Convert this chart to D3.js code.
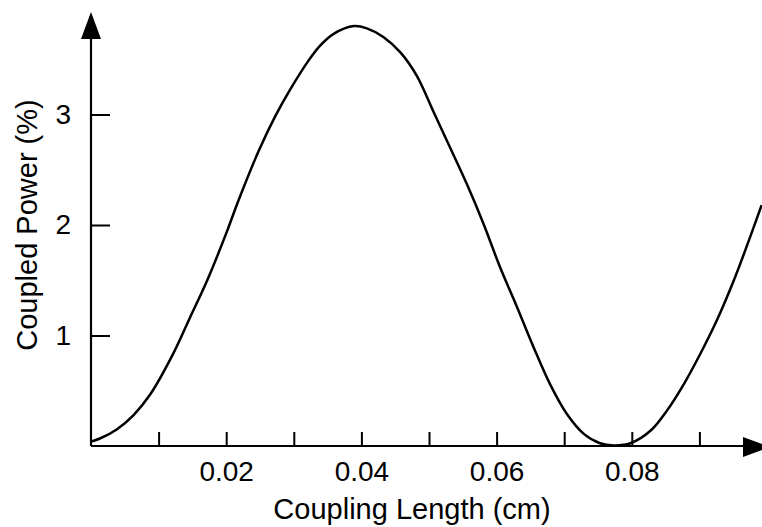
<!DOCTYPE html>
<html>
<head>
<meta charset="utf-8">
<script src="https://cdn.jsdelivr.net/npm/d3@7"></script>
<style>
  body { margin: 0; background: #fff; }
  text { font-family: "Liberation Sans", Arial, sans-serif; fill: #000; }
</style>
</head>
<body>
<script>
// values
var lengths = [0, 0.0014, 0.0038, 0.0063, 0.0088, 0.0122, 0.0147, 0.0172, 0.0201, 0.0218,
               0.0248, 0.0273, 0.0295, 0.0322, 0.0340, 0.0359, 0.0389, 0.0408, 0.0433, 0.0458,
               0.0482, 0.0507, 0.0532, 0.0556, 0.0580, 0.0605, 0.0630, 0.0655, 0.0679, 0.0704,
               0.0729, 0.0753, 0.0773, 0.0798, 0.0828, 0.0852, 0.0877, 0.0901, 0.0926, 0.0951,
               0.0975, 0.0992];
var power = [0.04, 0.07, 0.15, 0.28, 0.47, 0.84, 1.17, 1.50, 1.94, 2.22,
             2.67, 2.99, 3.23, 3.49, 3.63, 3.73, 3.80, 3.78, 3.70, 3.56,
             3.35, 3.02, 2.69, 2.37, 2.02, 1.62, 1.26, 0.89, 0.56, 0.29,
             0.11, 0.025, 0.005, 0.025, 0.14, 0.32, 0.56, 0.83, 1.14, 1.50,
             1.89, 2.18];
var xTicks = [0.01, 0.02, 0.03, 0.04, 0.05, 0.06, 0.07, 0.08, 0.09];
var xLabelled = [0.02, 0.04, 0.06, 0.08];
var yTicks = [1, 2, 3];

var width = 762, height = 527;
var x0 = 91, y0 = 446;

var svg = d3.select('body').append('svg').attr('width', width).attr('height', height);

var x = d3.scaleLinear().domain([0, 0.1]).range([x0, x0 + 676]);
var y = d3.scaleLinear().domain([0, 4]).range([y0, y0 - 442]);

// x axis, ticks pointing up, labels only on even ticks
var xAxis = svg.append('g')
    .attr('transform', 'translate(0,' + y0 + ')')
    .call(d3.axisBottom(x).tickValues(xTicks).tickSize(-14).tickPadding(15)
        .tickFormat(function (d) {
            return xLabelled.some(function (v) { return Math.abs(v - d) < 1e-9; }) ? d3.format('.2f')(d) : '';
        }));
xAxis.select('.domain').remove();
xAxis.selectAll('line').attr('stroke', '#000').attr('stroke-width', 2);
xAxis.selectAll('text').style('font-size', '28px').attr('dy', '0.71em');

// y axis, ticks pointing right
var yAxis = svg.append('g')
    .attr('transform', 'translate(' + x0 + ',0)')
    .call(d3.axisLeft(y).tickValues(yTicks).tickSize(-19).tickPadding(20).tickFormat(d3.format('d')));
yAxis.select('.domain').remove();
yAxis.selectAll('line').attr('stroke', '#000').attr('stroke-width', 2);
yAxis.selectAll('text').style('font-size', '28px');

// axis lines with arrow heads
svg.append('line').attr('x1', x0).attr('y1', y0).attr('x2', x0).attr('y2', 30)
    .attr('stroke', '#000').attr('stroke-width', 2.2);
svg.append('path')
    .attr('d', 'M' + x0 + ',12 L' + (x0 + 10) + ',39 L' + (x0 - 10) + ',39 Z')
    .attr('fill', '#000');

svg.append('line').attr('x1', x0).attr('y1', y0).attr('x2', 750).attr('y2', y0)
    .attr('stroke', '#000').attr('stroke-width', 2.2);
svg.append('path')
    .attr('d', 'M770,' + (y0 + 1) + ' L743,' + (y0 - 9) + ' L743,' + (y0 + 11) + ' Z')
    .attr('fill', '#000');

// curve
var points = lengths.map(function (d, i) { return [d, power[i]]; });
var line = d3.line()
    .x(function (d) { return x(d[0]); })
    .y(function (d) { return y(d[1]); })
    .curve(d3.curveCatmullRom);

svg.append('path')
    .datum(points)
    .attr('d', line)
    .attr('fill', 'none')
    .attr('stroke', '#000')
    .attr('stroke-width', 2.5);

// axis titles
svg.append('text')
    .attr('x', 412)
    .attr('y', 519)
    .attr('text-anchor', 'middle')
    .style('font-size', '29px')
    .text('Coupling Length (cm)');

svg.append('text')
    .attr('transform', 'translate(37,225) rotate(-90)')
    .attr('text-anchor', 'middle')
    .style('font-size', '29px')
    .text('Coupled Power (%)');
</script>
</body>
</html>
